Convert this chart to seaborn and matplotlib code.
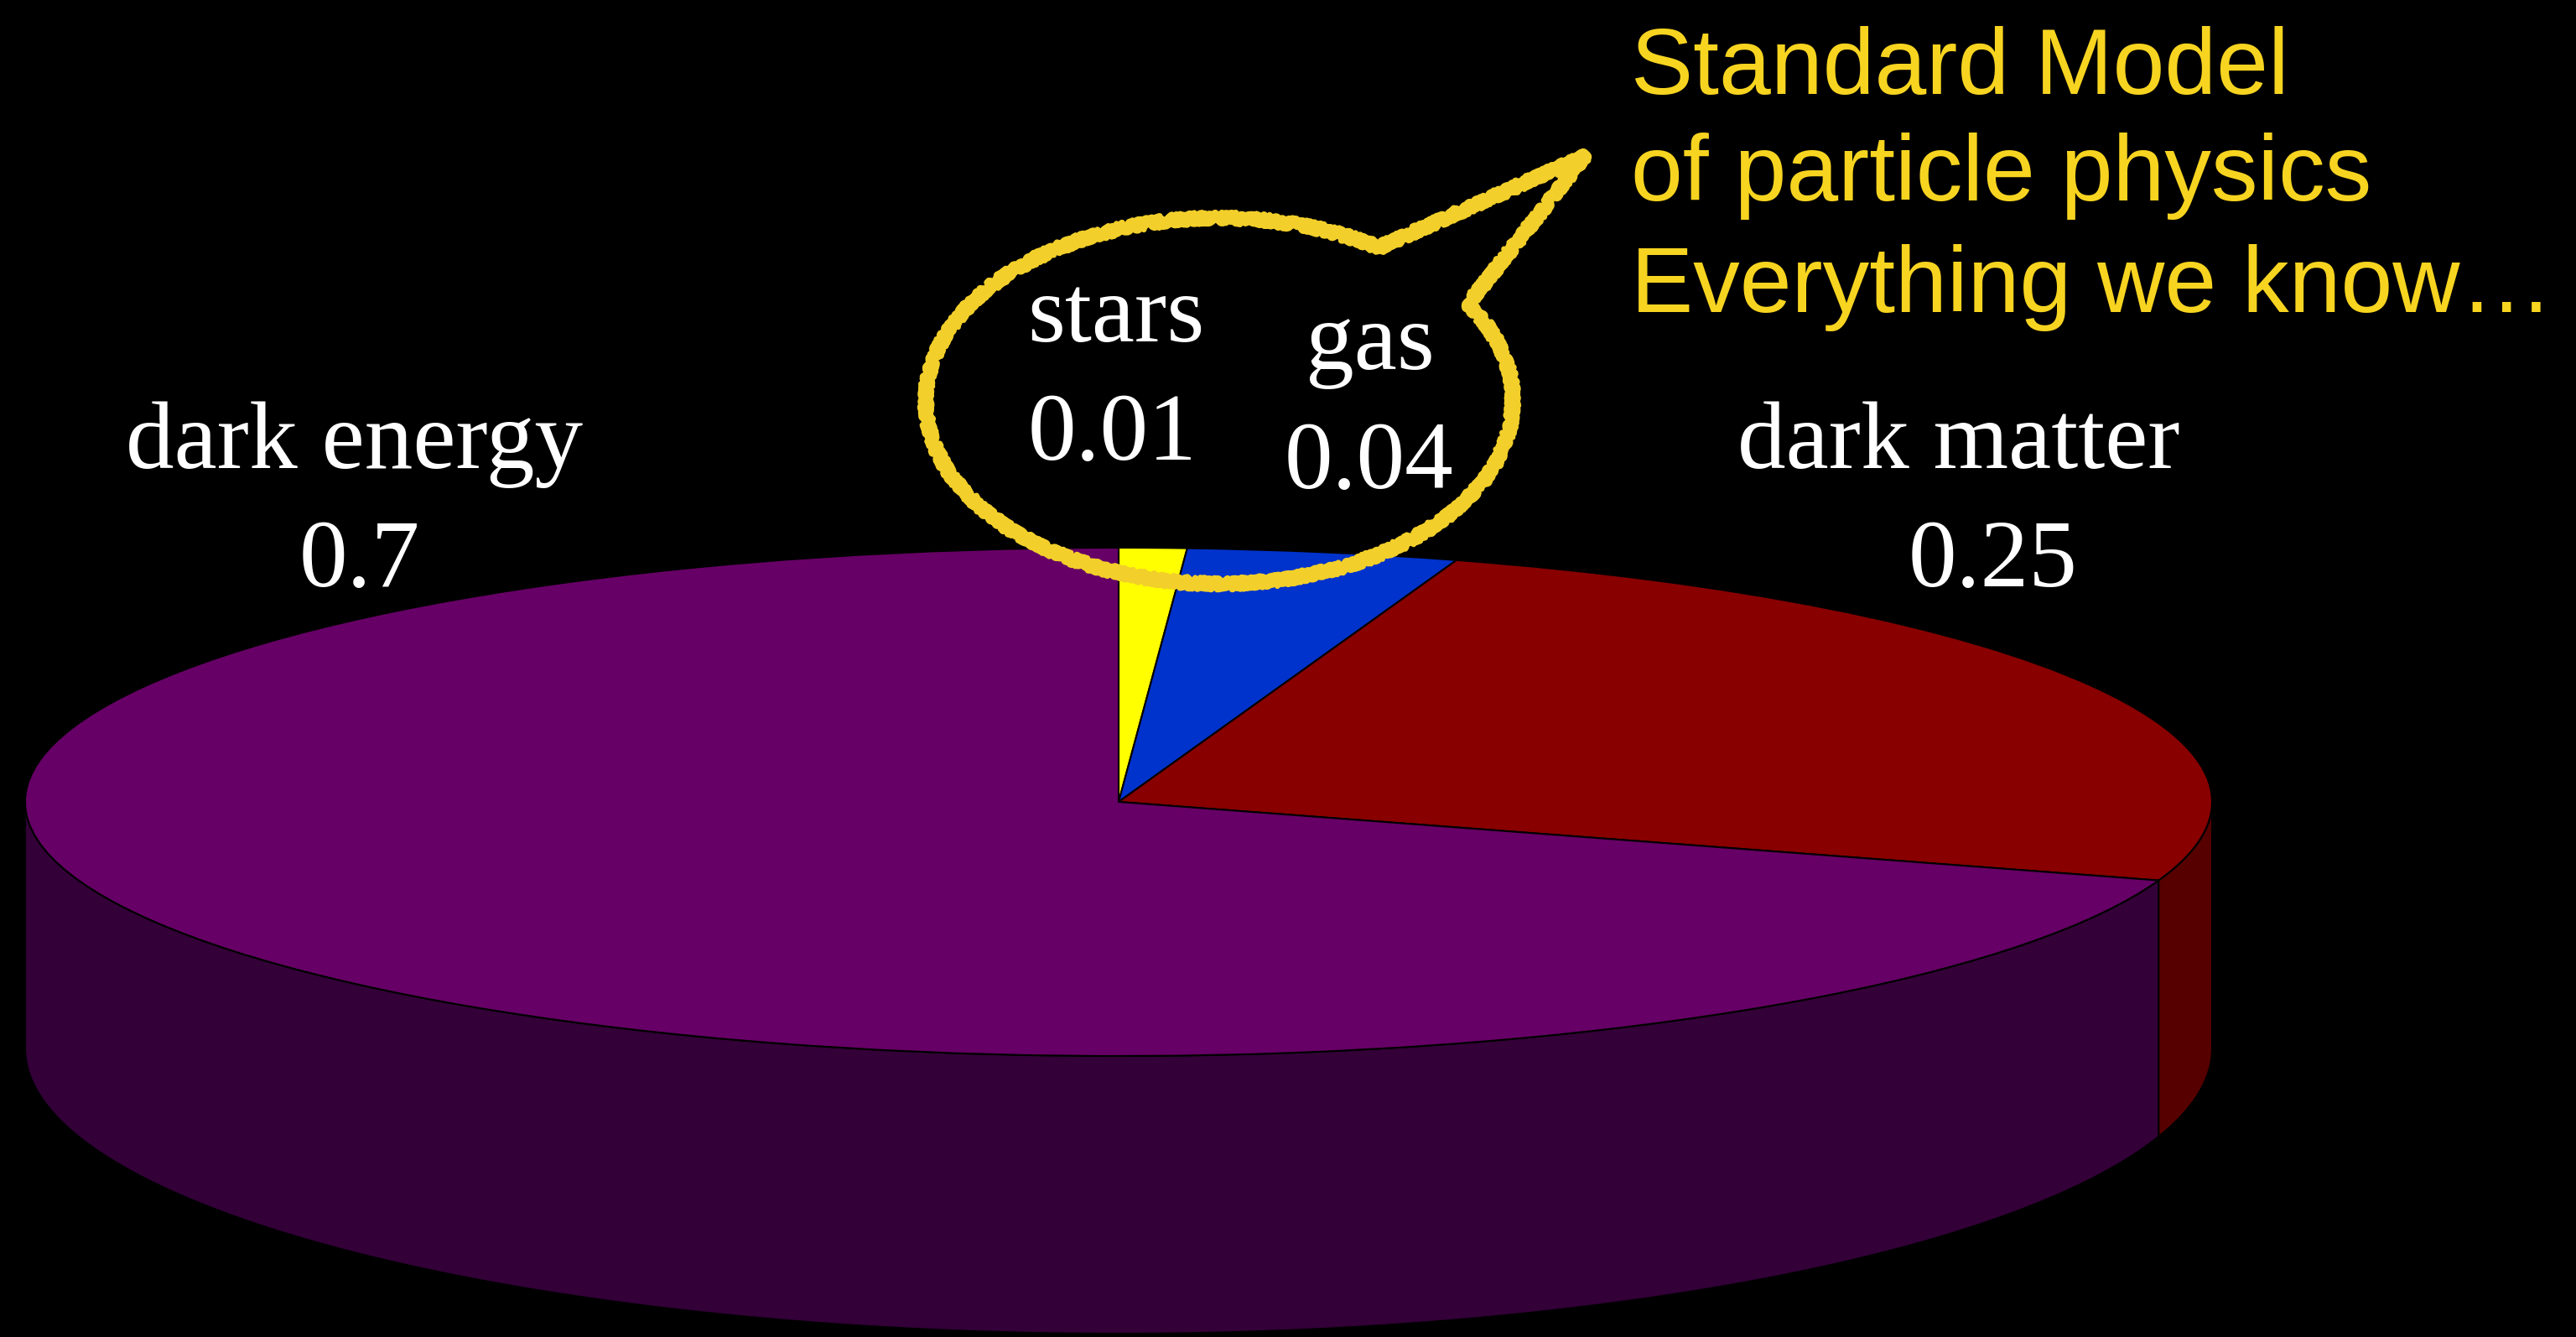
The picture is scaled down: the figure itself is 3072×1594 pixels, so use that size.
import numpy as np
import matplotlib
matplotlib.use("Agg")
import matplotlib.pyplot as plt
from matplotlib.path import Path
from matplotlib.patches import PathPatch
import seaborn as sns

# data
labels = ["stars", "gas", "dark matter", "dark energy"]
fractions = [0.01, 0.04, 0.25, 0.7]
value_text = ["0.01", "0.04", "0.25", "0.7"]
top_colors = ["#ffff00", "#0033cc", "#880000", "#660066"]
side_colors = ["#8a8a00", "#001a66", "#560000", "#330038"]
note_lines = ["Standard Model", "of particle physics", "Everything we know\u2026"]

W, H = 3072, 1594
# ellipse of the pie top, in pixels
cx, cy, rx, ry = 1334, 956, 1304, 303
# bottom rim (a bit wider vertically, perspective)
yb, kb = (cy - 1250) / ry, 340 / ry

sns.set_theme(style="white", rc={"figure.facecolor": "black", "axes.facecolor": "black",
                                 "savefig.facecolor": "black"})
plt.rcParams["font.family"] = ["Liberation Serif", "DejaVu Serif"]

fig = plt.figure(figsize=(W / 100, H / 100), dpi=100)
ax = fig.add_axes([0, 0, 1, 1])

# side walls of the front half
start = 0.0
for frac, col in zip(fractions, side_colors):
    a, b = start * 360, (start + frac) * 360
    start += frac
    lo, hi = max(a, 90), min(b, 270)
    if lo >= hi:
        continue
    t = np.radians(np.linspace(lo, hi, 200))
    xs = np.concatenate([np.sin(t), np.sin(t[::-1])])
    ys = np.concatenate([np.cos(t), yb + kb * np.cos(t[::-1])])
    ax.fill(xs, ys, color=col, ec="black", lw=1.5, zorder=0.5)

ax.pie(fractions, colors=top_colors, startangle=90, counterclock=False, radius=1,
       center=(0, 0), wedgeprops={"edgecolor": "black", "linewidth": 1.5})
ax.set_aspect("auto")
ax.set_xlim((0 - cx) / rx, (W - cx) / rx)
ax.set_ylim((cy - H) / ry, cy / ry)
ax.axis("off")


def fx(px):
    return px / W


def fy(py):
    return 1 - py / H


# labels (pixel positions)
label_pos = {"stars": (1331, 407, 1327, 548), "gas": (1634, 440, 1632, 582),
             "dark matter": (2336, 558, 2377, 699), "dark energy": (423, 558, 429, 699)}
for lab, val in zip(labels, value_text):
    x1, y1, x2, y2 = label_pos[lab]
    fig.text(fx(x1), fy(y1), lab, color="white", fontsize=83, ha="center", va="baseline")
    fig.text(fx(x2), fy(y2), val, color="white", fontsize=83, ha="center", va="baseline")

for line, yy in zip(note_lines, [112, 239, 372]):
    fig.text(fx(1945), fy(yy), line, color="#f7d420", fontsize=80, ha="left", va="baseline",
             family=["Liberation Sans", "DejaVu Sans"])

# hand-drawn speech bubble
bx, by, brx, bry = 1454, 478, 350, 218
tip = (1890, 186)
ang = np.radians(np.linspace(57, 32 + 360, 300))
pts = [(bx + brx * np.cos(q), by - bry * np.sin(q)) for q in ang]
pts = [pts[-1]] + [tip] + pts
pts = [(fx(px), fy(py)) for px, py in pts]
for lw, sk in [(10, (3, 20, 12)), (5, (7, 8, 30))]:
    patch = PathPatch(Path(pts), fill=False, ec="#f2cf2a", lw=lw, joinstyle="round",
                      transform=fig.transFigure, zorder=5)
    patch.set_sketch_params(*sk)
    fig.add_artist(patch)

fig.savefig("out.png", dpi=100, facecolor="black")
